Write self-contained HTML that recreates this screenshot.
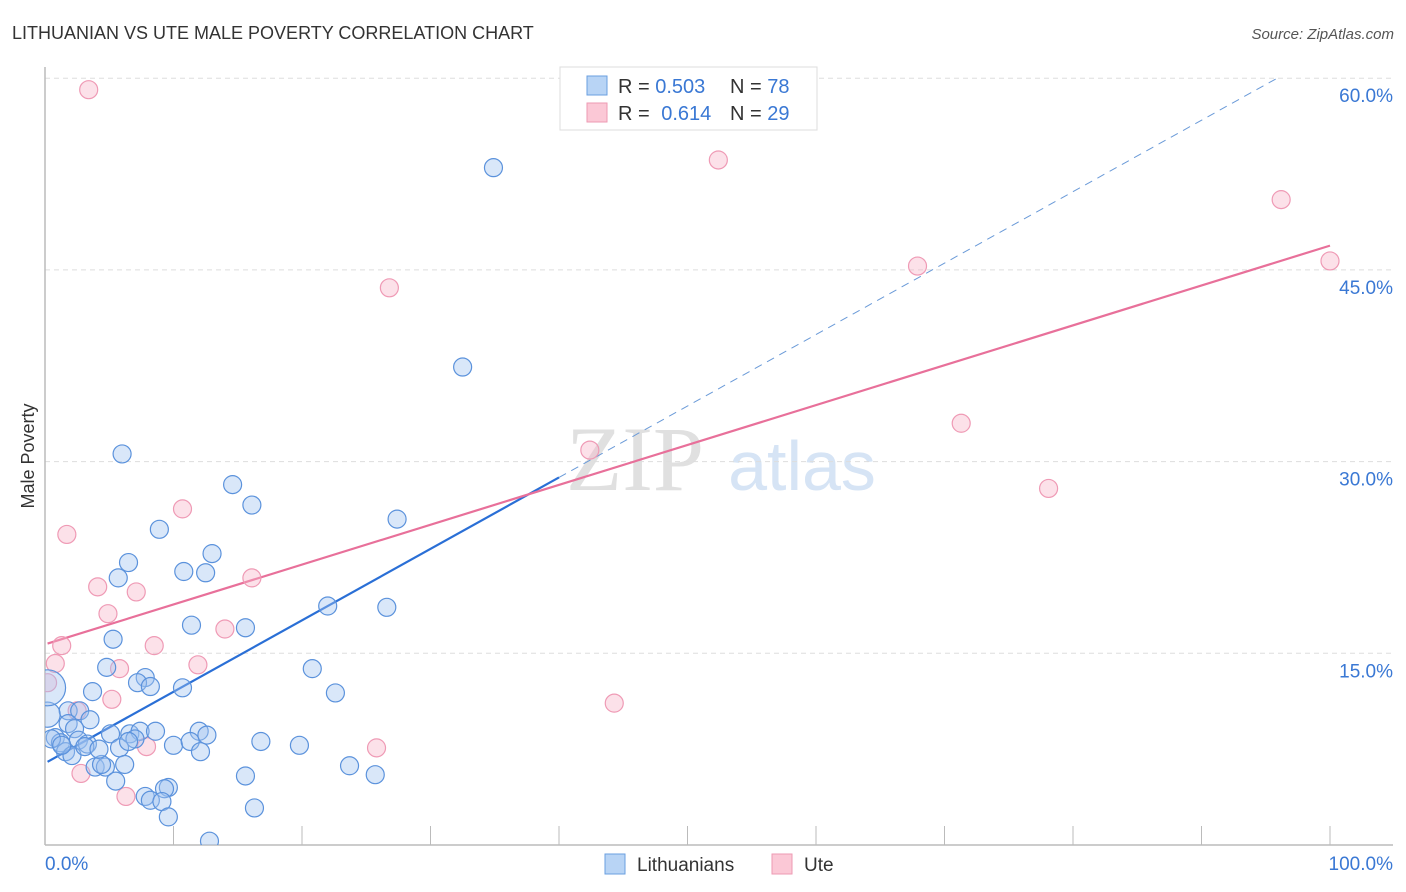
<!DOCTYPE html>
<html><head><meta charset="utf-8"><style>
body{margin:0;background:#fff;font-family:"Liberation Sans",sans-serif;}
svg{display:block}
</style></head><body>
<svg width="1406" height="892" xmlns="http://www.w3.org/2000/svg" id="chart">
<defs><clipPath id="plotclip"><rect x="45" y="60" width="1360" height="785"/></clipPath></defs>
<text x="12" y="39" font-size="18" fill="#333">LITHUANIAN VS UTE MALE POVERTY CORRELATION CHART</text>
<text x="1394" y="39" font-size="15" fill="#555" font-style="italic" text-anchor="end">Source: ZipAtlas.com</text>
<text transform="translate(34,456) rotate(-90)" font-size="18" fill="#333" text-anchor="middle">Male Poverty</text>
<g><text x="635" y="490" font-size="92" fill="#e0e0e0" font-family="Liberation Serif,serif" text-anchor="middle">ZIP</text><text x="802" y="490" font-size="70" fill="#d6e4f5" text-anchor="middle">atlas</text></g>
<g id="grid"></g><g id="axes"></g>
<g id="trend" clip-path="url(#plotclip)"></g>
<g id="points" clip-path="url(#plotclip)"></g>
<g>
<rect x="560" y="67" width="257" height="63" fill="#fff" stroke="#ddd"/>
<rect x="587" y="76" width="20" height="19" fill="#b8d4f5" stroke="#6a9fe0"/>
<rect x="587" y="103" width="20" height="19" fill="#fbc8d6" stroke="#ee9ab3"/>
<text x="618" y="93" font-size="20" fill="#333">R = <tspan fill="#3a78d4">0.503</tspan></text>
<text x="730" y="93" font-size="20" fill="#333">N = <tspan fill="#3a78d4">78</tspan></text>
<text x="618" y="120" font-size="20" fill="#333">R = <tspan fill="#3a78d4" dx="6">0.614</tspan></text>
<text x="730" y="120" font-size="20" fill="#333">N = <tspan fill="#3a78d4">29</tspan></text>
</g>
<g>
<rect x="605" y="854" width="20" height="20" fill="#b8d4f5" stroke="#6a9fe0"/>
<text x="637" y="871" font-size="19" fill="#333">Lithuanians</text>
<rect x="772" y="854" width="20" height="20" fill="#fbc8d6" stroke="#ee9ab3"/>
<text x="804" y="871" font-size="19" fill="#333">Ute</text>
</g>
</svg>
<script>
const blueX=[34.9,32.5,6.0,14.6,16.1,8.9,27.4,6.5,13.0,5.7,10.8,12.5,22.0,26.6,11.4,15.6,5.3,4.8,20.8,7.8,7.2,8.2,10.7,22.6,3.7,1.8,2.7,3.5,1.8,2.3,0.8,1.2,2.6,3.3,5.1,6.6,7.4,8.6,12.0,12.6,7.0,5.8,10.0,11.3,12.1,16.8,19.8,1.6,2.1,3.9,4.7,6.2,5.5,4.4,23.7,25.7,15.6,9.6,9.3,7.8,8.2,9.1,16.3,9.6,12.8,0.2,0.5,1.3,3.1,4.2,6.5,0.2];
const blueY=[53.0,37.4,30.6,28.2,26.6,24.7,25.5,22.1,22.8,20.9,21.4,21.3,18.7,18.6,17.2,17.0,16.1,13.9,13.8,13.1,12.7,12.4,12.3,11.9,12.0,10.5,10.5,9.8,9.5,9.1,8.4,8.0,8.2,7.9,8.7,8.7,8.9,8.9,8.9,8.6,8.3,7.6,7.8,8.1,7.3,8.1,7.8,7.3,7.0,6.1,6.1,6.3,5.0,6.3,6.2,5.5,5.4,4.5,4.4,3.8,3.5,3.4,2.9,2.2,0.3,10.2,8.3,7.8,7.7,7.5,8.1,12.3];
const blueSize=[1,1,1,1,1,1,1,1,1,1,1,1,1,1,1,1,1,1,1,1,1,1,1,1,1,1,1,1,1,1,1,1,1,1,1,1,1,1,1,1,1,1,1,1,1,1,1,1,1,1,1,1,1,1,1,1,1,1,1,1,1,1,1,1,1,1.4,1,1,1,1,1,2];
const pinkX=[3.4,52.4,96.2,100.0,67.9,26.8,71.3,42.4,78.1,10.7,1.7,16.1,4.1,7.1,4.9,14.0,8.5,1.3,0.8,11.9,5.8,0.2,5.2,2.5,44.3,7.9,25.8,2.8,6.3];
const pinkY=[59.1,53.6,50.5,45.7,45.3,43.6,33.0,30.9,27.9,26.3,24.3,20.9,20.2,19.8,18.1,16.9,15.6,15.6,14.2,14.1,13.8,12.7,11.4,10.5,11.1,7.7,7.6,5.6,3.8];
const blueTrend=[6.4,0.559];
const pinkTrend=[15.7,0.312];
const yTicks=[15,30,45,60];
const xTickVals=[0,10,20,30,40,50,60,70,80,90,100];
const NS="http://www.w3.org/2000/svg";
const sx=v=>45+v*12.85, sy=v=>845-v*12.78;
function mk(t,a,p){const e=document.createElementNS(NS,t);for(const k in a)e.setAttribute(k,a[k]);p.appendChild(e);return e;}
const grid=document.getElementById('grid'),axes=document.getElementById('axes'),trend=document.getElementById('trend'),pts=document.getElementById('points');
yTicks.forEach(v=>{
 const l=mk('line',{x1:45,x2:1393,y1:sy(v),y2:sy(v),stroke:'#ddd','stroke-dasharray':'5,4'},grid);
 
 
 const t=mk('text',{x:1393,y:sy(v)+24,'font-size':19,fill:'#3a78d4','text-anchor':'end'},axes);
 t.textContent=v.toFixed(1)+'%';
 
 
});
const ax=mk('line',{x1:45,x2:1393,y1:845,y2:845,stroke:'#bbb','stroke-width':1.5},axes);


const ay=mk('line',{x1:45,x2:45,y1:67,y2:845,stroke:'#bbb','stroke-width':1.5},axes);


xTickVals.forEach(v=>{
 const l=mk('line',{x1:sx(v),x2:sx(v),y1:826,y2:845,stroke:'#bbb'},axes);
 
 
});
[[0,'start',45],[100,'end',1393]].forEach(([v,a,x])=>{
 const t=mk('text',{x:x,y:870,'font-size':19,fill:'#3a78d4','text-anchor':a},axes);
 t.textContent=v.toFixed(1)+'%';
 
 
});
const bt=x=>blueTrend[0]+blueTrend[1]*x, pt=x=>pinkTrend[0]+pinkTrend[1]*x;
const bl=mk('line',{x1:sx(0.2),y1:sy(bt(0.2)),x2:sx(40),y2:sy(bt(40)),stroke:'#2a6fd6','stroke-width':2.2},trend);


const bd=mk('line',{x1:sx(40),y1:sy(bt(40)),x2:sx(96.1),y2:sy(bt(96.1)),stroke:'#6a9ad8','stroke-width':1,'stroke-dasharray':'8,6'},trend);


const pl=mk('line',{x1:sx(0.2),y1:sy(pt(0.2)),x2:sx(100),y2:sy(pt(100)),stroke:'#e8709a','stroke-width':2.2},trend);


pinkX.forEach((x,i)=>{
 const c=mk('circle',{cx:sx(x),cy:sy(pinkY[i]),r:9,fill:'rgba(248,180,200,0.4)',stroke:'#ef9ab5','stroke-width':1.2},pts);
 
 
});
blueX.forEach((x,i)=>{
 const c=mk('circle',{cx:sx(x),cy:sy(blueY[i]),r:9*blueSize[i],fill:'rgba(160,196,240,0.4)',stroke:'#5b92dc','stroke-width':1.2},pts);
 
 
});
</script>
</body></html>
